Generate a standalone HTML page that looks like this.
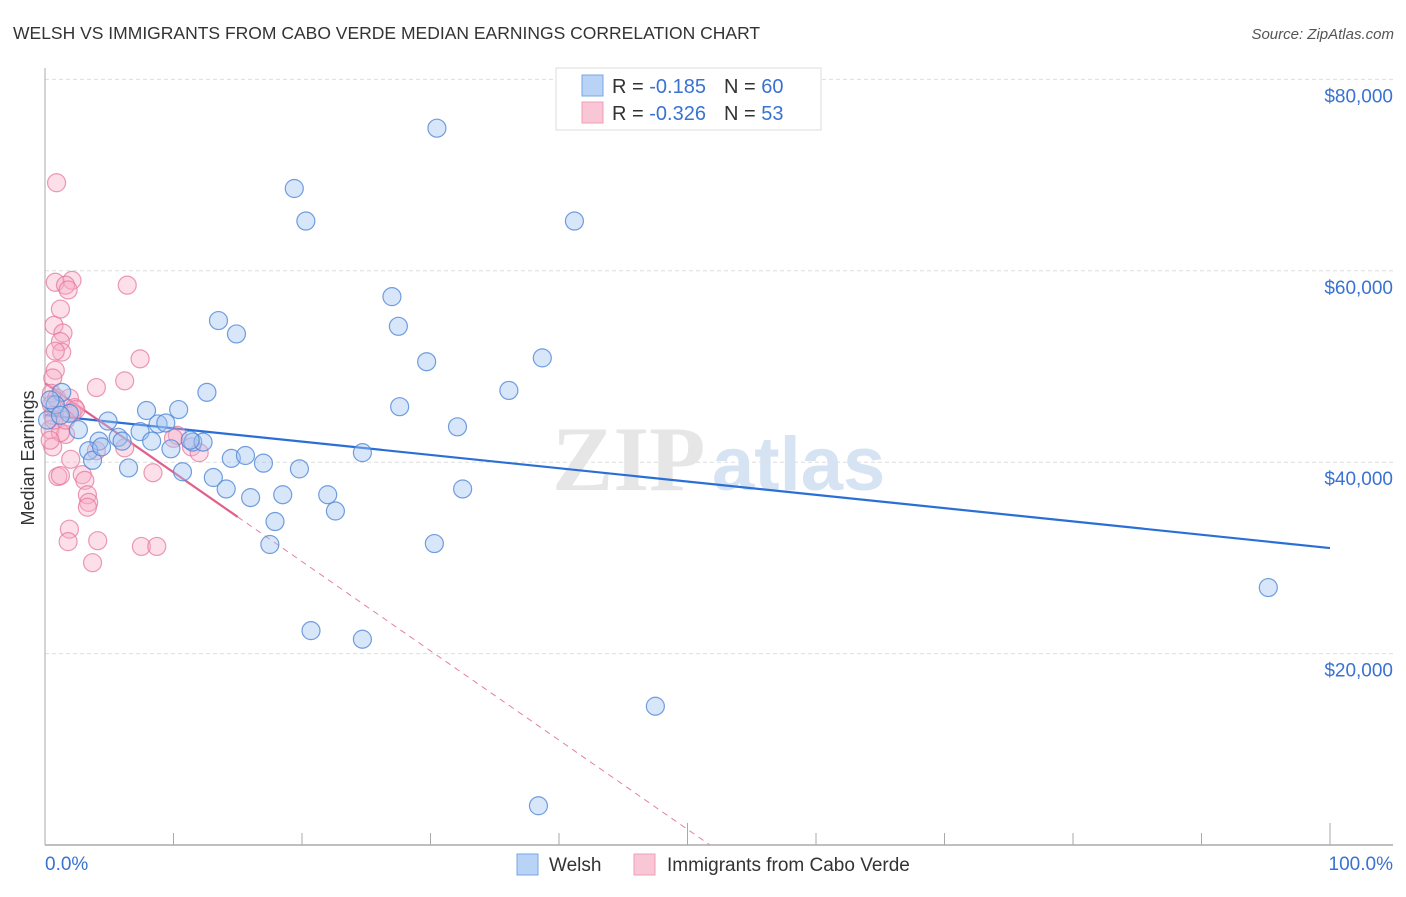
<!DOCTYPE html>
<html><head><meta charset="utf-8"><style>
html,body{margin:0;padding:0;background:#fff;}
body{width:1406px;height:892px;overflow:hidden;font-family:"Liberation Sans",sans-serif;}
</style></head><body>
<svg id="chart" width="1406" height="892" viewBox="0 0 1406 892" xmlns="http://www.w3.org/2000/svg" font-family="Liberation Sans, sans-serif">
<text x="13" y="39" font-size="17.5" fill="#333">WELSH VS IMMIGRANTS FROM CABO VERDE MEDIAN EARNINGS CORRELATION CHART</text>
<text x="1394" y="39" font-size="15" fill="#555" font-style="italic" text-anchor="end">Source: ZipAtlas.com</text>
<g id="grid"></g>
<g>
<text x="552" y="490" font-size="92" font-family="Liberation Serif, serif" fill="#e6e6e6" font-weight="bold">ZIP</text>
<text x="712" y="490" font-size="76" fill="#d6e3f3" font-weight="bold">atlas</text>
</g>
<g id="axes"></g>
<g id="lines"></g>
<g id="pts"></g>
<g>
<rect x="556" y="68" width="265" height="62" fill="#fff" stroke="#ddd"/>
<rect x="582" y="75" width="21" height="21" fill="#b8d3f5" stroke="#7aa6e6"/>
<rect x="582" y="102" width="21" height="21" fill="#f9c6d6" stroke="#ee9fba"/>
<text x="612" y="93" font-size="20" fill="#333">R = <tspan fill="#3a72d2"> -0.185</tspan><tspan dx="18">N = </tspan><tspan fill="#3a72d2">60</tspan></text>
<text x="612" y="120" font-size="20" fill="#333">R = <tspan fill="#3a72d2">-0.326</tspan><tspan dx="18">N = </tspan><tspan fill="#3a72d2"> 53</tspan></text>
</g>
<g>
<rect x="517" y="854" width="21" height="21" fill="#b8d3f5" stroke="#7aa6e6"/>
<text x="549" y="871" font-size="19" fill="#333">Welsh</text>
<rect x="634" y="854" width="21" height="21" fill="#f9c6d6" stroke="#ee9fba"/>
<text x="667" y="871" font-size="19" fill="#333">Immigrants from Cabo Verde</text>
</g>
<text transform="translate(34,458) rotate(-90)" font-size="18" fill="#333" text-anchor="middle">Median Earnings</text>
</svg>
<script>
const yTicks=[20000,40000,60000,80000];
const yTickLabels=["$20,000","$40,000","$60,000","$80,000"];
const xTickLabels=["0.0%","100.0%"];
const welshX=[30.5,19.4,20.3,41.2,27.0,13.5,14.9,27.5,29.7,38.7,12.6,36.1,27.6,32.1,24.7,1.3,1.9,4.9,7.9,10.4,8.8,9.4,7.4,4.2,5.7,6.0,8.3,9.8,11.5,12.3,3.4,3.7,6.5,10.7,13.1,14.5,15.6,17.0,19.8,14.1,16.0,18.5,22.0,22.6,17.9,17.5,32.5,30.3,20.7,24.7,47.5,38.4,95.2,2.6,4.4,0.8,0.2,0.4,1.2,11.3];
const welshY=[74.9,68.6,65.2,65.2,57.3,54.8,53.4,54.2,50.5,50.9,47.3,47.5,45.8,43.7,41.0,47.3,45.1,44.3,45.4,45.5,44.0,44.1,43.2,42.2,42.6,42.2,42.2,41.4,42.1,42.1,41.2,40.2,39.4,39.0,38.4,40.4,40.7,39.9,39.3,37.2,36.3,36.6,36.6,34.9,33.8,31.4,37.2,31.5,22.4,21.5,14.5,4.1,26.9,43.4,41.6,46.0,44.4,46.5,44.9,42.3];
const caboX=[0.9,0.8,2.1,1.6,1.8,6.4,1.2,0.7,1.4,1.2,1.3,0.8,7.4,0.8,0.6,6.2,4.0,0.5,0.9,1.9,0.5,2.3,2.1,2.4,0.6,0.4,1.6,1.2,10.3,11.4,12.0,6.2,10.0,0.6,2.0,4.0,8.4,1.0,1.2,2.9,3.1,3.3,3.4,3.3,1.9,1.8,4.1,7.5,8.7,3.7,0.4,0.7,1.6];
const caboY=[69.2,58.8,59.0,58.5,58.0,58.5,56.0,54.3,53.5,52.6,51.5,51.6,50.8,49.6,48.8,48.5,47.8,47.2,46.7,46.7,46.0,45.7,45.2,45.5,44.9,43.4,42.9,43.1,42.8,41.6,41.0,41.5,42.5,41.6,40.3,41.2,38.9,38.5,38.6,38.7,38.1,36.6,35.8,35.3,33.0,31.7,31.8,31.2,31.2,29.5,42.3,44.4,44.4];
const welshTrend=[44930,31030]; // at 0% and 100%
const caboTrend=[48270,-0.9327]; // intercept, slope per %
const NS="http://www.w3.org/2000/svg";
const X=p=>45+p*12.85, Y=v=>845-v/20000*191.4;
function mk(t,a,parent){const e=document.createElementNS(NS,t);for(const k in a)e.setAttribute(k,a[k]);parent.appendChild(e);return e;}
const grid=document.getElementById('grid'),axes=document.getElementById('axes'),lines=document.getElementById('lines'),pts=document.getElementById('pts');
yTicks.forEach((v,i)=>{
  const l=mk('line',{x1:45,x2:1393,y1:Y(v),y2:Y(v),stroke:'#ddd','stroke-dasharray':'4,3'},grid);
  
  
  const t=mk('text',{x:1393,y:Y(v)+23,'font-size':19,fill:'#3a72d2','text-anchor':'end'},axes);
  t.textContent=yTickLabels[i];
  
  
});
mk('line',{x1:45,x2:45,y1:68,y2:845,stroke:'#aaa'},axes);
mk('line',{x1:45,x2:1393,y1:845,y2:845,stroke:'#aaa','stroke-width':1.5},axes);
for(let i=1;i<=10;i++){
  const tk=mk('line',{x1:X(i*10),x2:X(i*10),y1:(i==5||i==10)?823:833,y2:845,stroke:'#aaa'},axes);
  
  
}
const xl0=mk('text',{x:45,y:870,'font-size':19,fill:'#3a72d2'},axes);xl0.textContent=xTickLabels[0];


const xl1=mk('text',{x:1393,y:870,'font-size':19,fill:'#3a72d2','text-anchor':'end'},axes);xl1.textContent=xTickLabels[1];


// trend lines
const wl=mk('line',{x1:X(0),y1:Y(welshTrend[0]),x2:X(100),y2:Y(welshTrend[1]),stroke:'#2a6fd6','stroke-width':2.2},lines);


const cy=p=>caboTrend[0]+caboTrend[1]*p*1000;
const zeroP=-caboTrend[0]/(caboTrend[1]*1000);
const cd=mk('line',{x1:X(15),y1:Y(cy(15)),x2:X(zeroP),y2:Y(0),stroke:'#e67fa2','stroke-width':1,'stroke-dasharray':'6,5'},lines);


const cs=mk('line',{x1:X(0),y1:Y(cy(0)),x2:X(15),y2:Y(cy(15)),stroke:'#e0608c','stroke-width':2.2},lines);


caboX.forEach((x,i)=>{
  const c=mk('circle',{cx:X(x),cy:Y(caboY[i]*1000),r:9,fill:'rgba(246,170,196,0.38)',stroke:'rgba(228,120,158,0.75)','stroke-width':1.2},pts);
  
  
});
welshX.forEach((x,i)=>{
  const c=mk('circle',{cx:X(x),cy:Y(welshY[i]*1000),r:9,fill:'rgba(160,196,240,0.42)',stroke:'rgba(80,135,215,0.8)','stroke-width':1.2},pts);
  
  
});
</script>
</body></html>
